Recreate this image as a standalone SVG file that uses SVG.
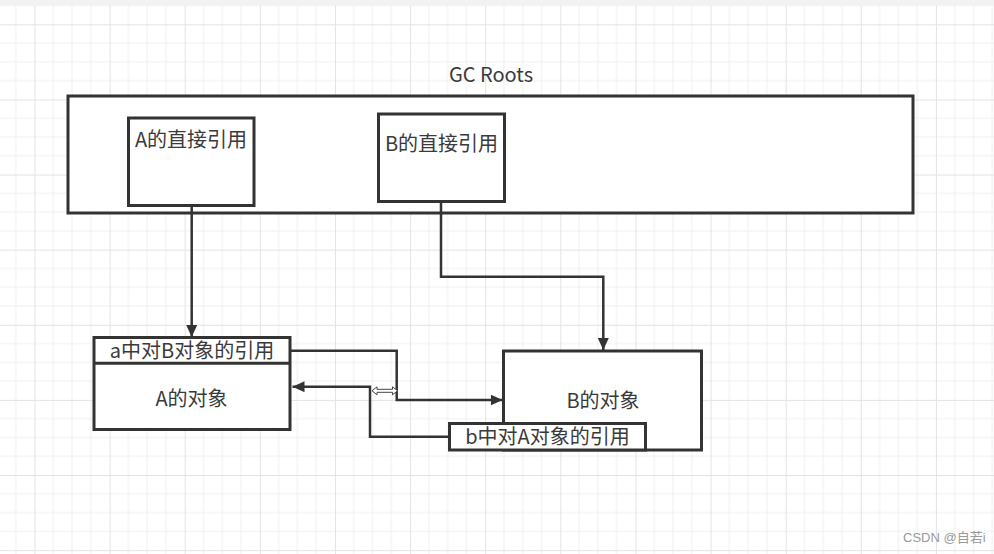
<svg xmlns="http://www.w3.org/2000/svg" width="994" height="554" viewBox="0 0 994 554">
  <defs>
    <pattern id="grid" patternUnits="userSpaceOnUse" x="34.48" y="24.3" width="75.12" height="75.12">
      <path d="M18.78,0V75.12M37.56,0V75.12M56.34,0V75.12M0,18.78H75.12M0,37.56H75.12M0,56.34H75.12" stroke="#f0f0f0" stroke-width="1" fill="none"/>
      <path d="M0.5,0V75.12M0,0.5H75.12" stroke="#e3e3e3" stroke-width="1" fill="none"/>
    </pattern>
    <marker id="arr" viewBox="0 0 12 11" refX="12" refY="5.5" markerWidth="12" markerHeight="11" markerUnits="userSpaceOnUse" orient="auto">
      <path d="M0,0 L12,5.5 L0,11 Z" fill="#333"/>
    </marker>
  </defs>
  <style>
    .box { fill: #fff; stroke: #333; stroke-width: 3; }
    .t { font-family: "Noto Sans CJK SC", "Noto Sans", sans-serif; font-size: 20px; fill: #3a3a3a; text-anchor: middle; }
    .conn { fill: none; stroke: #333; stroke-width: 2.5; }
  </style>
  <rect x="0" y="0" width="994" height="554" fill="#fff"/>
  <rect x="0" y="5" width="994" height="549" fill="url(#grid)"/>
  <rect x="0" y="0" width="994" height="5.5" fill="#f2f2f2"/>

  <g id="gc-roots">
    <text class="t" x="491" y="82">GC Roots</text>
    <rect class="box" x="68" y="96" width="845" height="117"/>
  </g>
  <g id="a-direct">
    <rect class="box" x="128.5" y="118" width="125.5" height="87.5"/>
    <text class="t" x="191" y="147">A的直接引用</text>
  </g>
  <g id="b-direct">
    <rect class="box" x="378.5" y="114" width="126" height="87.5"/>
    <text class="t" x="441.5" y="151">B的直接引用</text>
  </g>
  <g id="a-object">
    <rect class="box" x="94" y="337.5" width="196" height="92"/>
    <line x1="94" y1="363.3" x2="290" y2="363.3" stroke="#333" stroke-width="3"/>
    <text class="t" x="192" y="358">a中对B对象的引用</text>
    <text class="t" x="191.5" y="406">A的对象</text>
  </g>
  <g id="b-object">
    <rect class="box" x="503.5" y="351" width="198" height="99"/>
    <text class="t" x="603" y="408">B的对象</text>
  </g>
  <g id="b-ref">
    <rect class="box" x="449.5" y="423.5" width="196" height="26.5"/>
    <text class="t" x="547.5" y="444">b中对A对象的引用</text>
  </g>

  <g id="connectors">
    <path class="conn" d="M191.7,206 V337" marker-end="url(#arr)"/>
    <path class="conn" d="M441,202 V276.7 H603.3 V350" marker-end="url(#arr)"/>
    <path class="conn" d="M290,350.7 H396.7 V400 H502.5" marker-end="url(#arr)"/>
    <path class="conn" d="M449.3,436.7 H370 V386.7 H292.5" marker-end="url(#arr)"/>
    <path d="M372,390.8 L377,386.8 L377,389.3 L392.5,389.3 L392.5,386.8 L397.5,390.8 L392.5,394.8 L392.5,392.3 L377,392.3 L377,394.8 Z" fill="#fff" stroke="#444" stroke-width="1"/>
  </g>

  <text x="903" y="542" font-family="'Liberation Sans', 'Noto Sans CJK SC', sans-serif" font-size="13" fill="#999">CSDN @自若i</text>
</svg>
